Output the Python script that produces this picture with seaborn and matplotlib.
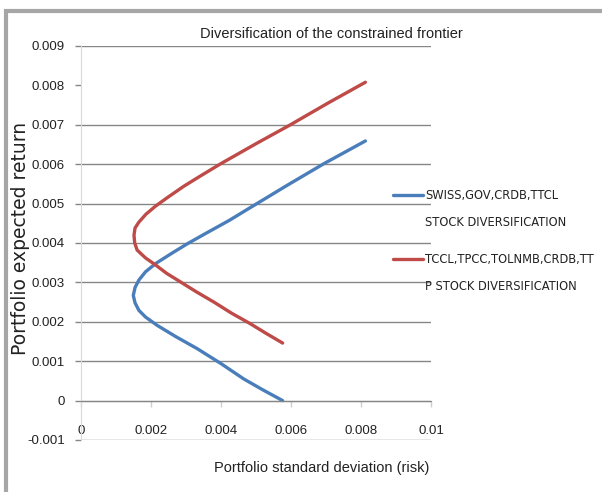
import numpy as np
import pandas as pd
import seaborn as sns
from matplotlib import pyplot as plt
from matplotlib.lines import Line2D
from matplotlib.patches import Rectangle

# Efficient frontier (std dev, expected return)
swiss_risk = [0.00576, 0.00520, 0.00465, 0.00400, 0.00332, 0.00270, 0.00218, 0.00185,
              0.00166, 0.00155, 0.00150, 0.00155, 0.00166, 0.00185, 0.00214, 0.00260,
              0.00304, 0.00360, 0.00423, 0.00484, 0.00590, 0.00693, 0.00812]
swiss_ret = [0.00000, 0.00027, 0.00055, 0.00094, 0.00132, 0.00163, 0.00191, 0.00212,
             0.00229, 0.00248, 0.00267, 0.00287, 0.00306, 0.00327, 0.00348, 0.00374,
             0.00398, 0.00426, 0.00457, 0.00490, 0.00547, 0.00601, 0.00659]

tccl_risk = [0.00576, 0.00530, 0.00484, 0.00430, 0.00380, 0.00330, 0.00285, 0.00245,
             0.00214, 0.00185, 0.00161, 0.00154, 0.00152, 0.00155, 0.00166, 0.00186,
             0.00214, 0.00250, 0.00294, 0.00345, 0.00399, 0.00500, 0.00598, 0.00705, 0.00812]
tccl_ret = [0.00146, 0.00170, 0.00195, 0.00222, 0.00250, 0.00276, 0.00301, 0.00323,
            0.00344, 0.00362, 0.00382, 0.00400, 0.00420, 0.00438, 0.00453, 0.00473,
            0.00494, 0.00517, 0.00544, 0.00572, 0.00601, 0.00652, 0.00700, 0.00755, 0.00808]

labels = ["SWISS,GOV,CRDB,TTCL\nSTOCK DIVERSIFICATION",
          "TCCL,TPCC,TOLNMB,CRDB,TT\nP STOCK DIVERSIFICATION"]
colors = ["#4A7EBB", "#BE4B48"]

x_ticks = [0, 0.002, 0.004, 0.006, 0.008, 0.01]
x_tick_labels = ["0", "0.002", "0.004", "0.006", "0.008", "0.01"]
y_ticks = [-0.001, 0, 0.001, 0.002, 0.003, 0.004, 0.005, 0.006, 0.007, 0.008, 0.009]
y_tick_labels = ["-0.001", "0", "0.001", "0.002", "0.003", "0.004", "0.005",
                 "0.006", "0.007", "0.008", "0.009"]

sns.set_style("white")
plt.rcParams["font.family"] = ["Liberation Sans", "DejaVu Sans"]

fig = plt.figure(figsize=(6.02, 4.92), dpi=100)
W, H = 602, 492
ax = fig.add_axes([80.7 / W, 1 - 440 / H, 350.6 / W, 394 / H])

df_a = pd.DataFrame({"risk": swiss_risk, "ret": swiss_ret})
df_b = pd.DataFrame({"risk": tccl_risk, "ret": tccl_ret})
sns.lineplot(data=df_a, x="risk", y="ret", sort=False, estimator=None,
             color=colors[0], lw=2.4, ax=ax)
sns.lineplot(data=df_b, x="risk", y="ret", sort=False, estimator=None,
             color=colors[1], lw=2.4, ax=ax)

ax.set_xlim(0, 0.01)
ax.set_ylim(-0.001, 0.009)
ax.set_xticks(x_ticks)
ax.set_xticklabels(x_tick_labels)
ax.set_yticks(y_ticks)
ax.set_yticklabels(y_tick_labels)

# grid (the 0.008 line is absent in the original)
ax.yaxis.grid(True, color="#868686", lw=1)
ax.xaxis.grid(False)
for val, tick in zip(y_ticks, ax.yaxis.get_major_ticks()):
    if abs(val - 0.008) < 1e-9:
        tick.gridline.set_visible(False)
        tick.tick1line.set_visible(False)

for s in ["top", "right"]:
    ax.spines[s].set_visible(False)
ax.spines["left"].set_color("#D9D9D9")
ax.spines["bottom"].set_position(("data", 0))
ax.spines["bottom"].set_color("#868686")

ax.tick_params(axis="y", left=True, length=4.5, width=1, color="#868686",
               pad=7, labelsize=9.5, labelcolor="#222222")
ax.tick_params(axis="x", bottom=True, length=4.5, width=1, color="#D0D0D0",
               pad=13, labelsize=9.5, labelcolor="#222222")

ax.set_title("Diversification of the constrained frontier", fontsize=10.5,
             x=(331 - 80.7) / 350.6, pad=6, color="#222222")
ax.set_xlabel("Portfolio standard deviation (risk)", fontsize=10.5, color="#222222")
ax.xaxis.set_label_coords((322 - 80.7) / 350.6, (440 - 461) / 394)
ax.set_ylabel("Portfolio expected return", fontsize=13.5, color="#222222",
              family="DejaVu Sans")
ax.yaxis.set_label_coords((30 - 80.7) / 350.6, (440 - 238) / 394)

# legend (two-line labels, key on first line)
for lab, col, y0 in zip(labels, colors, [195, 259]):
    fig.add_artist(Line2D([393 / W, 423 / W], [1 - y0 / H, 1 - y0 / H], color=col, lw=2.4))
    fig.text(425 / W, 1 - (y0 - 6) / H, lab, fontsize=9.2, va="top", ha="left",
             linespacing=2.4, color="#222222", family="DejaVu Sans",
             fontstretch="condensed")

# chart frame
fig.add_artist(Rectangle((5.5 / W, -0.2), 1.5, 1.2 - 10.5 / H, transform=fig.transFigure,
                         fill=False, edgecolor="#A6A6A6", lw=3))

fig.savefig("out.png", dpi=100)
